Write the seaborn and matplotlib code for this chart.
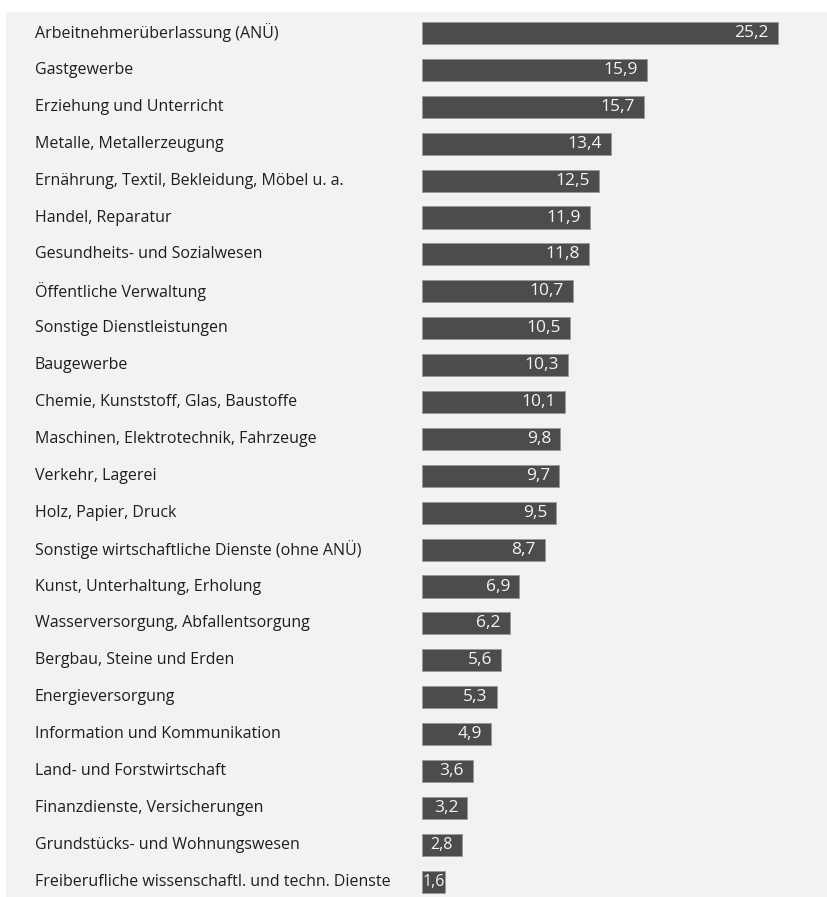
import matplotlib
matplotlib.use("Agg")
import matplotlib.pyplot as plt
import matplotlib.transforms as mtransforms
from matplotlib.patches import Rectangle
import seaborn as sns
import pandas as pd

branchen = [
    "Arbeitnehmerüberlassung (ANÜ)",
    "Gastgewerbe",
    "Erziehung und Unterricht",
    "Metalle, Metallerzeugung",
    "Ernährung, Textil, Bekleidung, Möbel u. a.",
    "Handel, Reparatur",
    "Gesundheits- und Sozialwesen",
    "Öffentliche Verwaltung",
    "Sonstige Dienstleistungen",
    "Baugewerbe",
    "Chemie, Kunststoff, Glas, Baustoffe",
    "Maschinen, Elektrotechnik, Fahrzeuge",
    "Verkehr, Lagerei",
    "Holz, Papier, Druck",
    "Sonstige wirtschaftliche Dienste (ohne ANÜ)",
    "Kunst, Unterhaltung, Erholung",
    "Wasserversorgung, Abfallentsorgung",
    "Bergbau, Steine und Erden",
    "Energieversorgung",
    "Information und Kommunikation",
    "Land- und Forstwirtschaft",
    "Finanzdienste, Versicherungen",
    "Grundstücks- und Wohnungswesen",
    "Freiberufliche wissenschaftl. und techn. Dienste",
]
anteile = [25.2, 15.9, 15.7, 13.4, 12.5, 11.9, 11.8, 10.7, 10.5, 10.3, 10.1,
           9.8, 9.7, 9.5, 8.7, 6.9, 6.2, 5.6, 5.3, 4.9, 3.6, 3.2, 2.8, 1.6]

df = pd.DataFrame({"branche": branchen, "anteil": anteile})

sns.set_theme(style="white")
plt.rcParams["font.family"] = ["Open Sans", "DejaVu Sans"]

W, H = 827, 897
fig = plt.figure(figsize=(W / 100, H / 100), dpi=100)
fig.patch.set_facecolor("white")

# light grey panel behind the chart
fig.patches.append(Rectangle((6 / W, 0), 1 - 6 / W, (H - 12) / H,
                             transform=fig.transFigure, facecolor="#f2f2f2",
                             edgecolor="none", zorder=-5))

# bars start at pixel 422, scale ~14.13 px per unit
left_px = 422
px_per_unit = 14.13
ax = fig.add_axes([left_px / W, 0, (W - left_px) / W, 1])
ax.set_facecolor("none")
ax.set_zorder(2)

sns.barplot(data=df, x="anteil", y="branche", orient="h", color="#4c4c4c",
            saturation=1, width=0.6, ax=ax, edgecolor="#9a9a9a", linewidth=0.7)

row_px = 36.9
first_px = 33
ax.set_xlim(0, (W - left_px) / px_per_unit)
ax.set_ylim((H - first_px) / row_px, -first_px / row_px)
ax.axis("off")

trans = mtransforms.blended_transform_factory(fig.transFigure, ax.transData)
for i, (name, val) in enumerate(zip(branchen, anteile)):
    fig.text(35 / W, i, name, transform=trans, ha="left", va="center",
             fontsize=11.5, color="#1e1e1e")
    label = f"{val:.1f}".replace(".", ",")
    if val * px_per_unit < 40:
        # narrow bar: centre the value inside it
        ax.text(val / 2, i, label, ha="center", va="center",
                fontsize=11.5, color="#f4f4f4")
    else:
        ax.annotate(label, xy=(val, i), xytext=(-6.5, 0),
                    textcoords="offset points", ha="right", va="center",
                    fontsize=12.5, color="#f4f4f4")

fig.savefig("out.png", dpi=100)
